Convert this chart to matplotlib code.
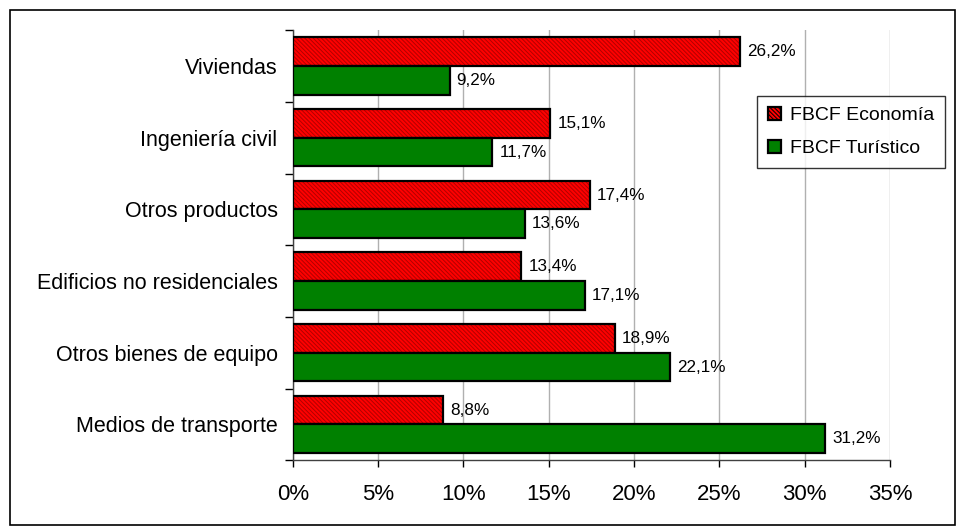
import matplotlib
matplotlib.use("Agg")
import matplotlib.pyplot as plt
from matplotlib.patches import Rectangle, Patch
import numpy as np

plt.rcParams['font.family'] = ['Liberation Sans', 'DejaVu Sans']
plt.rcParams['hatch.linewidth'] = 0.7

categories = ["Viviendas", "Ingeniería civil", "Otros productos",
              "Edificios no residenciales", "Otros bienes de equipo",
              "Medios de transporte"]
economia = [26.2, 15.1, 17.4, 13.4, 18.9, 8.8]
turistico = [9.2, 11.7, 13.6, 17.1, 22.1, 31.2]
series_names = ["FBCF Economía", "FBCF Turístico"]
xticks = [0, 5, 10, 15, 20, 25, 30, 35]

fig = plt.figure(figsize=(9.57, 5.29), dpi=100)
ax = fig.add_axes([0.306, 0.130, 0.624, 0.813])

n = len(categories)
y = np.arange(n)
h = 0.4

red = "#FF0000"
green = "#008000"
HATCH = "\\" * 8

# red bars with hatch
ax.barh(y - h / 2, economia, height=h, color=red, edgecolor="#b00000",
        hatch=HATCH, linewidth=0, zorder=3)
ax.barh(y - h / 2, economia, height=h, fill=False, edgecolor="black",
        linewidth=1.6, zorder=4)
ax.barh(y + h / 2, turistico, height=h, color=green, edgecolor="black",
        linewidth=1.6, zorder=4)

def fmt(v):
    return f"{v:.1f}".replace(".", ",") + "%"

for yi, v in zip(y, economia):
    ax.text(v + 0.4, yi - h / 2, fmt(v), va="center", ha="left", fontsize=12.3, zorder=5)
for yi, v in zip(y, turistico):
    ax.text(v + 0.4, yi + h / 2, fmt(v), va="center", ha="left", fontsize=12.3, zorder=5)

ax.set_xlim(0, 35)
ax.set_ylim(n - 0.5, -0.5)
ax.set_xticks(xticks)
ax.set_xticklabels([f"{t}%" for t in xticks], fontsize=16)
ax.tick_params(axis="x", direction="out", length=5, width=1, pad=12)

ax.set_yticks(y)
ax.set_yticklabels(categories, fontsize=15.5)
ax.tick_params(axis="y", length=0, pad=11)
ax.set_yticks(np.arange(-0.5, n, 1), minor=True)
ax.tick_params(axis="y", which="minor", direction="out", length=6, width=1)

ax.grid(axis="x", color="#b0b0b0", linewidth=1, zorder=0)
ax.set_axisbelow(True)
for s in ["top", "right"]:
    ax.spines[s].set_visible(False)
ax.spines["left"].set_linewidth(1)
ax.spines["bottom"].set_linewidth(1)
ax.spines["left"].set_color("#404040")
ax.spines["bottom"].set_color("#404040")

handles = [Patch(facecolor=red, edgecolor="black", hatch=HATCH, linewidth=1.6),
           Patch(facecolor=green, edgecolor="black", linewidth=1.6)]
leg = fig.legend(handles, series_names, loc="upper left",
                 bbox_to_anchor=(757 / 957, 1 - 96 / 529),
                 fontsize=14, frameon=True, fancybox=False,
                 edgecolor="black", handlelength=0.7, handleheight=0.7,
                 handletextpad=0.45, labelspacing=0.8, borderpad=0.55,
                 borderaxespad=0)
leg.get_frame().set_linewidth(1)

# outer frame
fig.patches.append(Rectangle((10 / 957, 1 - 525 / 529), 945 / 957, 515 / 529,
                             transform=fig.transFigure, fill=False,
                             edgecolor="black", linewidth=1.2))

fig.savefig("out.png", dpi=100)
